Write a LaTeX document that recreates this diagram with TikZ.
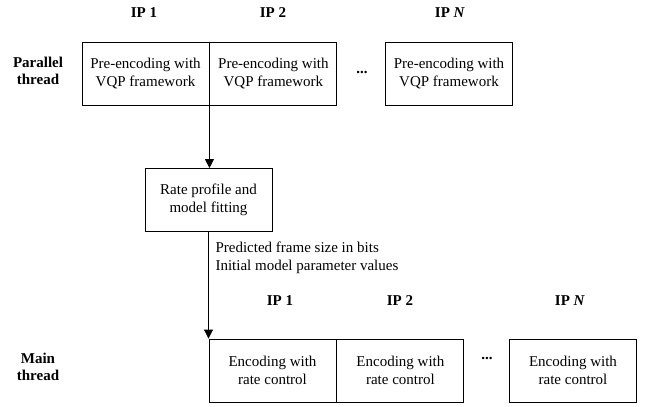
\documentclass[tikz,border=0pt]{standalone}
\usepackage{fontspec}
\setmainfont{Liberation Serif}
\usetikzlibrary{positioning, arrows.meta}
\tikzset{
>={Triangle[length=9pt, width=9pt]}, % filled arrow heads
x=1pt, y=-1pt, % one unit per pixel, y runs downwards
every node/.style={font=\fontsize{15}{17.5}\selectfont, align=center},
box/.style={draw, line width=0.9pt, minimum width=127pt, minimum height=63pt, inner sep=0pt}, % sets the properties for each block
head/.style={font=\fontsize{15}{17.5}\selectfont\bfseries}, % IP and thread labels
}

\begin{document}
\begin{tikzpicture}
    \useasboundingbox (0,0) rectangle (649,407);
    % parallel thread
    \node[head] (ptop1) at (144,13) {IP 1};
    \node[head] (ptop2) at (273,13) {IP 2};
    \node[head] (ptopN) at (450,13) {IP \textit{N}};
    \node[head] (par) at (38,71) {Parallel\\thread};
    \node[box] (pre1) at (145.5,73.5) {Pre-encoding with\\VQP framework};
    \node[box, right=0pt of pre1] (pre2) {Pre-encoding with\\VQP framework};
    \node[head] (pdots) at (362,72) {...};
    \node[box] (preN) at (449,73.5) {Pre-encoding with\\VQP framework};
    % model fitting
    \node[box] (rate) at (208.5,200) {Rate profile and\\model fitting};
    \node[align=left, anchor=west] (info) at (212,258) {Predicted frame size in bits\\Initial model parameter values};
    % main thread
    \node[head] (mtop1) at (280,301) {IP 1};
    \node[head] (mtop2) at (400,301) {IP 2};
    \node[head] (mtopN) at (570,301) {IP \textit{N}};
    \node[head] (main) at (38,367) {Main\\thread};
    \node[box] (enc1) at (272.5,370.5) {Encoding with\\rate control};
    \node[box, right=0pt of enc1] (enc2) {Encoding with\\rate control};
    \node[head] (mdots) at (487,358) {...};
    \node[box] (encN) at (573,370.5) {Encoding with\\rate control};
    \draw[->, line width=0.9pt]
    (pre1.south east) -- (pre1.south east |- rate.north);
    \draw[->, line width=0.9pt]
    (rate.south) -- (rate.south |- enc1.north);
  \end{tikzpicture}
\end{document}
